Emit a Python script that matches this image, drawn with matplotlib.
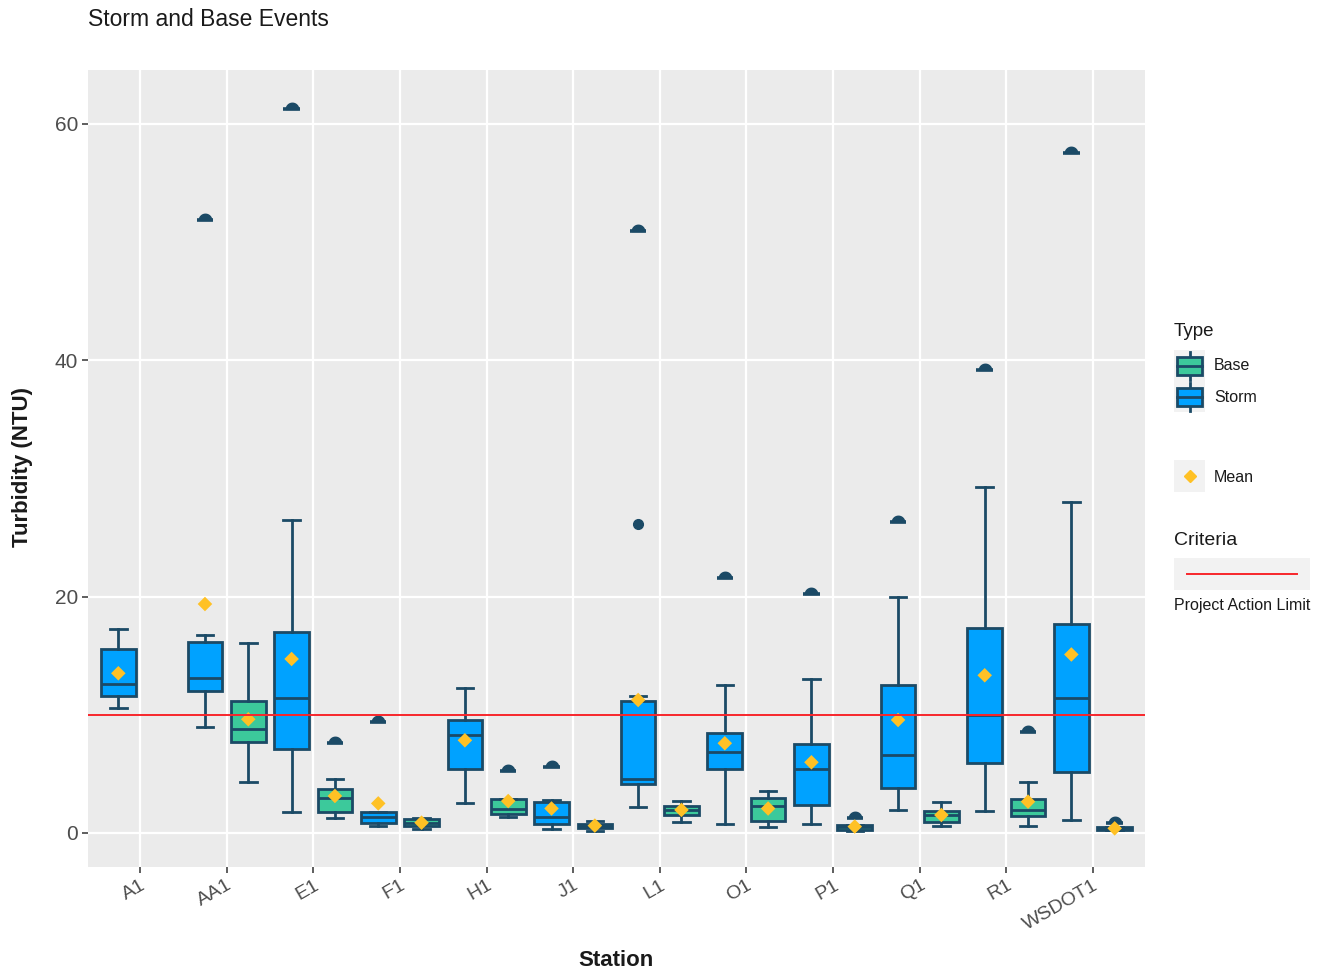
import matplotlib
matplotlib.use("Agg")
import matplotlib.pyplot as plt
from matplotlib.patches import Rectangle
from matplotlib.lines import Line2D
import numpy as np

plt.rcParams["font.family"] = ["Liberation Sans", "DejaVu Sans"]

# ---- data -------------------------------------------------------------
stations = ["A1", "AA1", "E1", "F1", "H1", "J1", "L1", "O1", "P1", "Q1", "R1", "WSDOT1"]

storm_whislo = [10.6, 9.0, 1.8, 0.62, 2.57, 0.31, 2.21, 0.76, 0.76, 1.98, 1.89, 1.1]
storm_q1     = [11.55, 12.0, 7.13, 0.87, 5.37, 0.72, 4.15, 5.37, 2.33, 3.83, 5.96, 5.12]
storm_med    = [12.6, 13.07, 11.39, 1.31, 8.29, 1.38, 4.53, 6.88, 5.44, 6.6, 9.98, 11.39]
storm_q3     = [15.6, 16.13, 16.98, 1.75, 9.56, 2.65, 11.19, 8.43, 7.49, 12.52, 17.37, 17.64]
storm_whishi = [17.23, 16.75, 26.5, 1.75, 12.24, 2.83, 11.6, 12.52, 13.0, 20.0, 29.27, 28.0]
storm_mean   = [13.51, 19.37, 14.72, 2.5, 7.84, 2.07, 11.25, 7.59, 5.98, 9.56, 13.34, 15.1]
storm_out    = [[], [51.87], [61.25], [9.36], [], [5.61], [50.9, 26.1], [21.55], [20.2], [26.35], [39.2], [57.5]]

base_whislo = [None, 4.27, 1.24, 0.31, 1.38, 0.2, 0.9, 0.54, 0.2, 0.62, 0.62, 0.25]
base_q1     = [None, 7.73, 1.75, 0.59, 1.61, 0.4, 1.52, 1.04, 0.25, 0.9, 1.44, 0.25]
base_med    = [None, 8.8, 2.99, 0.87, 2.0, 0.59, 1.95, 2.28, 0.48, 1.52, 1.95, 0.39]
base_q3     = [None, 11.19, 3.69, 1.15, 2.9, 0.79, 2.31, 3.0, 0.68, 1.86, 2.88, 0.54]
base_whishi = [None, 16.1, 4.53, 1.3, 2.9, 1.04, 2.7, 3.58, 0.68, 2.62, 4.29, 0.54]
base_mean   = [None, 9.62, 3.13, 0.87, 2.7, 0.62, 1.95, 2.07, 0.54, 1.52, 2.65, 0.39]
base_out    = [[], [], [7.64], [], [5.27], [], [], [], [1.3], [], [8.57], [0.85]]

# outliers that are drawn without a cap line
plain_outliers = {("Storm", 6): [26.1]}

action_limit = 10

# ---- style ------------------------------------------------------------
STORM = "#00A2FF"
BASE = "#3CC99B"
EDGE = "#1B4A66"
MEAN = "#FFC125"
LIMIT = "#F8262B"
PANEL = "#EBEBEB"
TXT = "#4D4D4D"
DARK = "#1a1a1a"

W, H = 1322, 972
fig = plt.figure(figsize=(W / 100, H / 100), dpi=100)
ax = fig.add_axes([88 / W, 1 - 867 / H, (1145 - 88) / W, (867 - 70) / H])
ax.set_facecolor(PANEL)
for s in ax.spines.values():
    s.set_visible(False)

x = np.arange(1, len(stations) + 1)
offset, width, capw = 0.25, 0.40, 0.19

# half-disc marker sitting on top of its anchor point
theta = np.linspace(0, np.pi, 25)
half_disc = list(zip(np.cos(theta), np.sin(theta))) + [(1, 0)]


def draw_group(name, whislo, q1, med, q3, whishi, mean, outs, pos_shift, color):
    stats, pos = [], []
    for i in range(len(stations)):
        if med[i] is None:
            continue
        stats.append(dict(whislo=whislo[i], q1=q1[i], med=med[i], q3=q3[i],
                          whishi=whishi[i], fliers=[], mean=mean[i]))
        pos.append(x[i] + pos_shift)
    ax.bxp(stats, positions=pos, widths=width, patch_artist=True,
           showmeans=False, showfliers=False, capwidths=capw,
           boxprops=dict(facecolor=color, edgecolor=EDGE, linewidth=2.0),
           medianprops=dict(color=EDGE, linewidth=2.0),
           whiskerprops=dict(color=EDGE, linewidth=2.0),
           capprops=dict(color=EDGE, linewidth=2.0), zorder=3)
    # outliers
    for i in range(len(stations)):
        plain = plain_outliers.get((name, i), [])
        for v in outs[i]:
            px = x[i] + pos_shift
            if v in plain:
                ax.plot(px, v, "o", color=EDGE, ms=7, zorder=4)
            else:
                ax.plot([px - capw / 2, px + capw / 2], [v, v], color=EDGE, lw=2.6,
                        solid_capstyle="butt", zorder=4)
                ax.plot(px, v, marker=half_disc, color=EDGE, ms=9, lw=0, zorder=4)
    # means
    mx = [x[i] + pos_shift for i in range(len(stations)) if mean[i] is not None]
    my = [m for m in mean if m is not None]
    ax.scatter(mx, my, marker="D", s=55, color=MEAN, edgecolors="none", zorder=5)


draw_group("Storm", storm_whislo, storm_q1, storm_med, storm_q3, storm_whishi,
           storm_mean, storm_out, -offset, STORM)
draw_group("Base", base_whislo, base_q1, base_med, base_q3, base_whishi,
           base_mean, base_out, offset, BASE)

ax.axhline(action_limit, color=LIMIT, lw=1.4, zorder=6)

ax.set_xlim(0.4, len(stations) + 0.6)
ax.set_ylim(-2.88, 64.55)
ax.set_xticks(x)
ax.set_xticklabels(stations, rotation=30, ha="right", rotation_mode="anchor",
                   fontsize=14, color=TXT)
ax.set_yticks([0, 20, 40, 60])
ax.set_yticklabels(["0", "20", "40", "60"], fontsize=15, color=TXT)
ax.tick_params(axis="both", length=4, width=1.1, color="#333333", pad=3)
ax.grid(True, color="white", lw=1.6, zorder=0)
ax.set_axisbelow(True)


def fx(px):
    return px / W


def fy(py):
    return 1 - py / H


fig.text(fx(616), fy(960), "Station", fontsize=16, fontweight="bold",
         va="center", ha="center", color=DARK)
fig.text(fx(23), fy(467), "Turbidity (NTU)", fontsize=16, fontweight="bold",
         va="center", ha="center", rotation=90, color=DARK)
fig.text(fx(88), fy(19), "Storm and Base Events", fontsize=16.5,
         va="center", ha="left", color=DARK)

# ---- legend -------------------------------------------------------------


def key_bg(x0, y0, x1, y1):
    fig.add_artist(Rectangle((fx(x0), fy(y1)), fx(x1) - fx(x0), fy(y0) - fy(y1),
                             transform=fig.transFigure, facecolor="#F2F2F2",
                             edgecolor="none", zorder=1))


def box_key(cy, color):
    cx = 1189.5
    fig.add_artist(Line2D([fx(cx), fx(cx)], [fy(cy - 14), fy(cy + 14)],
                          transform=fig.transFigure, color=EDGE, lw=2.0, zorder=2))
    fig.add_artist(Rectangle((fx(1177), fy(cy + 9)), fx(1202) - fx(1177), fy(cy - 9) - fy(cy + 9),
                             transform=fig.transFigure, facecolor=color, edgecolor=EDGE,
                             lw=2.0, zorder=3))
    fig.add_artist(Line2D([fx(1177), fx(1202)], [fy(cy), fy(cy)],
                          transform=fig.transFigure, color=EDGE, lw=2.0, zorder=4))


fig.text(fx(1174), fy(332), "Type", fontsize=13.5, va="center", ha="left", color=DARK)
key_bg(1174, 350, 1205, 412)
box_key(366, BASE)
box_key(397, STORM)
fig.text(fx(1214), fy(366), "Base", fontsize=11.5, va="center", ha="left", color=DARK)
fig.text(fx(1214), fy(397), "Storm", fontsize=11.5, va="center", ha="left", color=DARK)

key_bg(1174, 460, 1205, 492)
fig.add_artist(Line2D([fx(1189.5)], [fy(476)], transform=fig.transFigure, marker="D",
                      ms=6, color=MEAN, lw=0, zorder=3))
fig.text(fx(1214), fy(477), "Mean", fontsize=11.5, va="center", ha="left", color=DARK)

fig.text(fx(1174), fy(540), "Criteria", fontsize=14, va="center", ha="left", color=DARK)
key_bg(1174, 558, 1310, 590)
fig.add_artist(Line2D([fx(1187), fx(1297)], [fy(574), fy(574)], transform=fig.transFigure,
                      color=LIMIT, lw=1.4, zorder=3))
fig.text(fx(1174), fy(605), "Project Action Limit", fontsize=11.5, va="center", ha="left",
         color=DARK)

fig.savefig("out.png", dpi=100, facecolor="white")
